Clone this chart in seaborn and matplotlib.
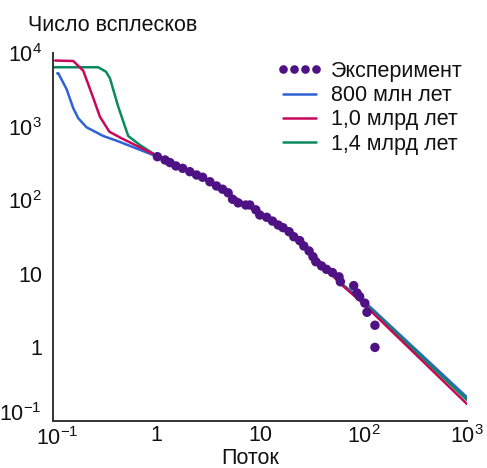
import matplotlib
matplotlib.use("Agg")
import matplotlib.pyplot as plt
import matplotlib.transforms as mtransforms
from matplotlib.lines import Line2D
from matplotlib.ticker import LogLocator, FixedLocator, FixedFormatter, NullFormatter
import seaborn as sns
import pandas as pd
import numpy as np

# ---------------- data ----------------
exp_flux = [1.02, 1.21, 1.35, 1.54, 1.79, 2.10, 2.44, 2.79, 3.28, 3.80, 4.35, 4.92,
            5.43, 6.15, 7.29, 7.97, 9.11, 9.95, 11.6, 13.2, 15.0, 16.7, 19.1, 21.2,
            24.2, 26.5, 29.8, 32.5, 34.6, 39.3, 43.9, 50.1, 58.0, 59.8, 80.4, 86.5,
            91.8, 103, 108, 129, 129]
exp_count = [390, 352, 324, 292, 271, 244, 220, 205, 178, 156, 141, 126,
             103, 92, 86, 86, 74, 63, 58.6, 52, 46, 42.3, 37.3, 31.9,
             28.2, 23.9, 20.4, 17.1, 14.6, 12.8, 11.5, 10.4, 9.1, 7.8, 6.9, 5.5,
             4.9, 4.0, 3.0, 2.0, 1.0]

m800_flux = [0.11, 0.1125, 0.1355, 0.157, 0.1755, 0.211, 0.306, 0.412, 0.93,
             1, 2, 4, 10, 20, 30, 40, 60, 100, 1000]
m800_count = [5300, 5300, 3210, 1775, 1298, 978, 745, 643, 411,
              395, 255, 150, 66, 35, 21, 13.3, 7.5, 4.3, 0.21]

m1000_flux = [0.105, 0.157, 0.196, 0.236, 0.284, 0.35, 0.46, 0.93,
              1, 2, 4, 10, 20, 30, 40, 60, 100, 1000]
m1000_count = [7900, 7780, 5740, 2830, 1362, 853, 693, 425,
               395, 255, 150, 66, 35, 21, 13.3, 7.3, 3.9, 0.17]

m1400_flux = [0.102, 0.2735, 0.325, 0.355, 0.427, 0.533, 0.692, 0.93,
              1, 2, 4, 10, 20, 30, 40, 60, 100, 1000]
m1400_count = [6400, 6400, 5570, 4530, 1862, 745, 562, 430,
               395, 255, 150, 66, 35, 21, 13.3, 7.4, 4.1, 0.193]

series_labels = ["Эксперимент", "800 млн лет", "1,0 млрд лет", "1,4 млрд лет"]
x_tick_values = [0.1, 1, 10, 100, 1000]
x_tick_labels = ["10$^{-1}$", "1", "10", "10$^{2}$", "10$^{3}$"]
y_tick_values = [0.1, 1, 10, 100, 1000, 10000]
y_tick_labels = ["10$^{-1}$", "1", "10", "10$^{2}$", "10$^{3}$", "10$^{4}$"]
y_title = "Число всплесков"
x_title = "Поток"

# ---------------- style ----------------
sns.set_style("white")
plt.rcParams["font.family"] = ["Liberation Sans", "DejaVu Sans"]
plt.rcParams["mathtext.fontset"] = "custom"
plt.rcParams["mathtext.rm"] = "Liberation Sans"
plt.rcParams["mathtext.it"] = "Liberation Sans"
plt.rcParams["mathtext.default"] = "regular"

c_exp = "#4e1284"
c_blue = "#2f62d6"
c_red = "#c8085c"
c_green = "#0b8a5e"
axis_col = "#333333"
FS = 15.5
LW = 1.8

W, H = 487, 468
fig = plt.figure(figsize=(W / 100, H / 100), dpi=100)
ax = fig.add_axes([53 / W, 1 - 421 / H, (467 - 53) / W, (421 - 53) / H])

df_b = pd.DataFrame({"x": m800_flux, "y": m800_count})
df_r = pd.DataFrame({"x": m1000_flux, "y": m1000_count})
df_g = pd.DataFrame({"x": m1400_flux, "y": m1400_count})
df_e = pd.DataFrame({"x": exp_flux, "y": exp_count})

sns.lineplot(data=df_b, x="x", y="y", ax=ax, color=c_blue, lw=LW, sort=False, estimator=None)
sns.lineplot(data=df_g, x="x", y="y", ax=ax, color=c_green, lw=LW, sort=False, estimator=None)
sns.lineplot(data=df_r, x="x", y="y", ax=ax, color=c_red, lw=LW, sort=False, estimator=None)
sns.scatterplot(data=df_e, x="x", y="y", ax=ax, color=c_exp, s=46, edgecolor="none", zorder=5)

ax.set_xscale("log")
ax.set_yscale("log")
ax.set_xlim(0.1, 1000)
ax.set_ylim(0.1, 10000)
ax.set_xlabel("")
ax.set_ylabel("")

for s in ["top", "right"]:
    ax.spines[s].set_visible(False)
for s in ["left", "bottom"]:
    ax.spines[s].set_color(axis_col)
    ax.spines[s].set_linewidth(1.4)

ax.xaxis.set_major_locator(FixedLocator(x_tick_values))
ax.xaxis.set_major_formatter(FixedFormatter(x_tick_labels))
ax.yaxis.set_major_locator(FixedLocator(y_tick_values))
ax.yaxis.set_major_formatter(FixedFormatter(y_tick_labels))
ax.xaxis.set_minor_locator(LogLocator(base=10, subs=np.arange(2, 10)))
ax.yaxis.set_minor_locator(LogLocator(base=10, subs=np.arange(2, 10)))
ax.xaxis.set_minor_formatter(NullFormatter())
ax.yaxis.set_minor_formatter(NullFormatter())

ax.tick_params(axis="both", which="major", direction="in", length=5.8, width=1.1,
               color=axis_col, labelsize=FS, labelcolor="#111111")
ax.tick_params(axis="both", which="minor", direction="in", length=4.0, width=1.1,
               color=axis_col)
ax.tick_params(axis="x", which="major", pad=3)
ax.tick_params(axis="y", which="major", pad=8)
for t in ax.get_xticklabels() + ax.get_yticklabels():
    t.set_fontsize(FS)

fig.text(28 / W, 1 - 31 / H, y_title, fontsize=FS, color="#111111", va="baseline", ha="left")
fig.text(250 / W, 1 - 464 / H, x_title, fontsize=FS, color="#111111", va="baseline", ha="center")

handles = [
    Line2D([], [], ls="none", marker="o", ms=6.2, color=c_exp, markeredgewidth=0),
    Line2D([], [], color=c_blue, lw=LW),
    Line2D([], [], color=c_red, lw=LW),
    Line2D([], [], color=c_green, lw=LW),
]
leg = ax.legend(handles, series_labels, frameon=False, numpoints=4, handlelength=2.1,
                handletextpad=0.4, labelspacing=0.15, loc="upper left",
                bbox_to_anchor=(277 / W, 1 - 61 / H), bbox_transform=fig.transFigure,
                borderaxespad=0, borderpad=0, fontsize=FS)
for t in leg.get_texts():
    t.set_color("#111111")

# keep the two corner labels (10^-1 on both axes) from colliding
fig.canvas.draw()
xl0 = ax.get_xticklabels()[0]
yl0 = ax.get_yticklabels()[0]
xl0.set_transform(xl0.get_transform() + mtransforms.ScaledTranslation(4 / 100, -2 / 100, fig.dpi_scale_trans))
fig.canvas.draw()
r = fig.canvas.get_renderer()
bx = xl0.get_window_extent(r)
by = yl0.get_window_extent(r)
if bx.overlaps(by):
    dy = bx.y1 - by.y0 + 1
    yl0.set_transform(yl0.get_transform() + mtransforms.ScaledTranslation(0, dy / 100, fig.dpi_scale_trans))

fig.savefig("out.png", dpi=100)
